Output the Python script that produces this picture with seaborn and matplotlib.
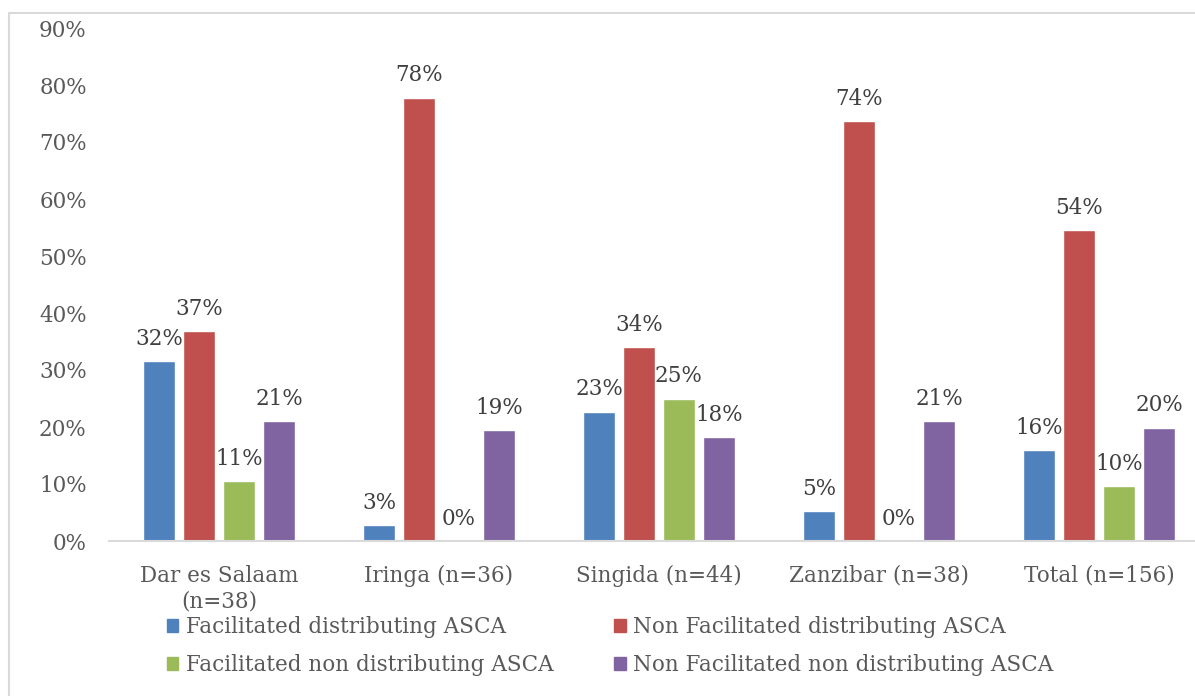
import numpy as np
import pandas as pd
import seaborn as sns
import matplotlib.pyplot as plt
from matplotlib.patches import Rectangle
from matplotlib.ticker import FuncFormatter

# categories and series (percent)
regions = ["Dar es Salaam\n(n=38)", "Iringa (n=36)", "Singida (n=44)",
           "Zanzibar (n=38)", "Total (n=156)"]
groups = ["Facilitated distributing ASCA", "Non Facilitated distributing ASCA",
          "Facilitated non distributing ASCA", "Non Facilitated non distributing ASCA"]
fac_dist = [31.6, 2.8, 22.7, 5.3, 16.0]
nonfac_dist = [36.8, 77.8, 34.1, 73.7, 54.49]
fac_nondist = [10.53, 0.0, 25.0, 0.0, 9.6]
nonfac_nondist = [21.1, 19.4, 18.2, 21.1, 19.9]
colors = ["#4F81BD", "#C0504D", "#9BBB59", "#8064A2"]

rows = []
for g, vals in zip(groups, [fac_dist, nonfac_dist, fac_nondist, nonfac_nondist]):
    for r, v in zip(regions, vals):
        rows.append({"Region": r, "Group": g, "Pct": v})
df = pd.DataFrame(rows)

sns.set_style("white")
plt.rcParams["font.family"] = ["DejaVu Serif"]
txt = "#595959"
fs = 15.5

fig = plt.figure(figsize=(11.95, 6.96), dpi=100)
# plot area: x 109..1209 px, y 28..541 px
ax = fig.add_axes([109 / 1195, 155 / 696, 1100 / 1195, 513 / 696])

sns.barplot(data=df, x="Region", y="Pct", hue="Group", order=regions,
            hue_order=groups, palette=colors, width=0.727, gap=0.2,
            saturation=1, ax=ax, legend=False)

for cont in ax.containers:
    ax.bar_label(cont, labels=[f"{b.get_height():.0f}%" for b in cont],
                 padding=8, fontsize=fs, color="#404040")

ax.set_ylim(0, 90)
ax.set_yticks(np.arange(0, 91, 10))
ax.yaxis.set_major_formatter(FuncFormatter(lambda v, p: f"{v:.0f}%"))
ax.set_xlim(-0.5, 4.5)
ax.set_xlabel("")
ax.set_ylabel("")
ax.tick_params(axis="both", colors=txt, labelsize=fs, length=0)
ax.tick_params(axis="y", pad=16)
ax.tick_params(axis="x", pad=17)
for lbl in ax.get_xticklabels():
    lbl.set_linespacing(1.25)
for s in ["top", "right", "left"]:
    ax.spines[s].set_visible(False)
ax.spines["bottom"].set_color("#D9D9D9")
ax.spines["bottom"].set_linewidth(1.5)

# legend filled row by row like the original
order = [0, 2, 1, 3]
handles = [Rectangle((0, 0), 1, 1, color=colors[i]) for i in order]
fig.legend(handles, [groups[i] for i in order], ncol=2, loc="center",
           bbox_to_anchor=(610 / 1195, 1 - 646 / 696),
           frameon=False, fontsize=fs, labelcolor=txt, handlelength=0.55, handleheight=0.55,
           handletextpad=0.35, columnspacing=2.8, labelspacing=0.75)

# outer chart border
fig.add_artist(Rectangle((9 / 1195, -0.1), 1.1, 1 - 13 / 696 + 0.1, transform=fig.transFigure,
                         fill=False, edgecolor="#D9D9D9", linewidth=1.5))

fig.savefig("out.png", dpi=100)
